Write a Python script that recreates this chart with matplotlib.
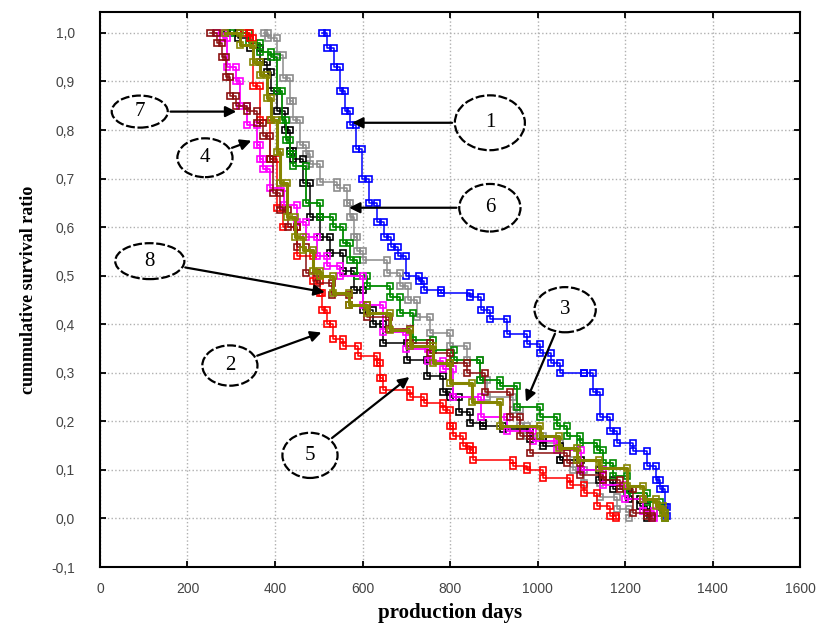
import numpy as np
import matplotlib.pyplot as plt
from matplotlib.patches import Ellipse

# survival curves: (production day, survival ratio)
days_1 = [507, 520, 535, 549, 560, 571, 585, 598, 615, 632, 650, 665, 680, 700, 730, 740, 780, 846, 870, 891,
          930, 975, 1006, 1030, 1051, 1105, 1127, 1143, 1165, 1181, 1219, 1250, 1270, 1280, 1291, 1296]
surv_1 = [1.0, 0.97, 0.93, 0.88, 0.84, 0.81, 0.76, 0.70, 0.65, 0.61, 0.58, 0.56, 0.54, 0.50, 0.49, 0.47, 0.465, 0.457, 0.43, 0.41,
          0.38, 0.36, 0.34, 0.32, 0.30, 0.30, 0.26, 0.21, 0.18, 0.156, 0.14, 0.108, 0.08, 0.06, 0.023, 0.005]

days_2 = [330, 343, 350, 365, 389, 404, 418, 450, 487, 503, 508, 518, 533, 556, 590, 632, 640, 647, 709, 740,
          785, 800, 807, 830, 846, 853, 944, 975, 1013, 1074, 1105, 1135, 1166, 1180]
surv_2 = [1.0, 0.99, 0.89, 0.82, 0.74, 0.64, 0.60, 0.54, 0.49, 0.465, 0.43, 0.40, 0.37, 0.355, 0.334, 0.32, 0.29, 0.265, 0.25, 0.238,
          0.224, 0.19, 0.17, 0.149, 0.142, 0.121, 0.108, 0.10, 0.084, 0.07, 0.053, 0.025, 0.005, 0.0]

days_3 = [300, 340, 366, 392, 404, 415, 425, 435, 442, 472, 503, 533, 556, 571, 587, 610, 663, 686, 716, 762,
          808, 869, 914, 952, 1006, 1044, 1067, 1097, 1135, 1150, 1173, 1204, 1250, 1280, 1292]
surv_3 = [1.0, 0.98, 0.96, 0.95, 0.88, 0.82, 0.78, 0.75, 0.725, 0.65, 0.62, 0.60, 0.567, 0.533, 0.50, 0.478, 0.457, 0.423, 0.368, 0.348,
          0.327, 0.286, 0.272, 0.23, 0.21, 0.19, 0.17, 0.156, 0.142, 0.115, 0.087, 0.053, 0.033, 0.012, 0.0]

days_4 = [265, 282, 290, 312, 320, 335, 358, 366, 373, 389, 420, 450, 470, 495, 520, 549, 600, 647, 700, 750,
          784, 807, 870, 930, 990, 1044, 1100, 1150, 1200, 1240, 1265]
surv_4 = [1.0, 0.99, 0.93, 0.90, 0.85, 0.81, 0.77, 0.74, 0.72, 0.68, 0.645, 0.61, 0.58, 0.54, 0.52, 0.50, 0.44, 0.385, 0.35, 0.325,
          0.307, 0.25, 0.21, 0.18, 0.16, 0.142, 0.10, 0.07, 0.04, 0.015, 0.0]

days_5 = [290, 316, 343, 366, 381, 392, 404, 423, 434, 442, 465, 480, 503, 526, 556, 580, 602, 625, 647, 701,
          747, 784, 800, 820, 846, 876, 922, 983, 1013, 1051, 1100, 1140, 1173, 1210, 1234, 1250]
surv_5 = [1.0, 0.99, 0.97, 0.94, 0.92, 0.88, 0.84, 0.80, 0.756, 0.74, 0.69, 0.62, 0.58, 0.547, 0.51, 0.47, 0.43, 0.40, 0.362, 0.327,
          0.293, 0.26, 0.25, 0.22, 0.197, 0.19, 0.185, 0.163, 0.149, 0.121, 0.10, 0.08, 0.06, 0.04, 0.025, 0.0]

days_6 = [375, 385, 404, 419, 434, 442, 457, 470, 480, 503, 541, 564, 571, 580, 587, 602, 655, 686, 705, 724,
          754, 800, 838, 869, 884, 944, 960, 975, 1013, 1051, 1080, 1105, 1143, 1181, 1210]
surv_6 = [1.0, 0.99, 0.955, 0.907, 0.86, 0.82, 0.77, 0.75, 0.73, 0.694, 0.68, 0.65, 0.62, 0.58, 0.55, 0.533, 0.506, 0.478, 0.45, 0.416,
          0.382, 0.355, 0.327, 0.286, 0.25, 0.224, 0.19, 0.17, 0.156, 0.121, 0.10, 0.074, 0.045, 0.02, 0.0]

days_7 = [251, 267, 280, 289, 297, 312, 335, 358, 373, 389, 396, 411, 430, 450, 472, 495, 530, 570, 610, 660,
          709, 754, 800, 838, 880, 937, 960, 983, 1067, 1097, 1150, 1189, 1219, 1250, 1262]
surv_7 = [1.0, 0.98, 0.95, 0.91, 0.87, 0.85, 0.84, 0.815, 0.787, 0.74, 0.67, 0.636, 0.60, 0.56, 0.506, 0.485, 0.46, 0.44, 0.416, 0.39,
          0.362, 0.341, 0.32, 0.30, 0.26, 0.21, 0.17, 0.135, 0.115, 0.09, 0.08, 0.06, 0.012, 0.005, 0.0]

days_8 = [285, 320, 350, 366, 381, 392, 404, 411, 427, 445, 465, 487, 503, 533, 570, 610, 663, 709, 762, 800,
          850, 914, 1006, 1050, 1090, 1140, 1204, 1242, 1270, 1287, 1292]
surv_8 = [1.0, 0.975, 0.94, 0.914, 0.866, 0.82, 0.755, 0.69, 0.62, 0.58, 0.553, 0.51, 0.50, 0.465, 0.44, 0.423, 0.389, 0.355, 0.32, 0.28,
          0.24, 0.19, 0.17, 0.145, 0.12, 0.105, 0.066, 0.04, 0.025, 0.012, 0.0]

x_ticks = [0, 200, 400, 600, 800, 1000, 1200, 1400, 1600]
y_ticks = [-0.1, 0.0, 0.1, 0.2, 0.3, 0.4, 0.5, 0.6, 0.7, 0.8, 0.9, 1.0]
y_labels = ["-0,1", "0,0", "0,1", "0,2", "0,3", "0,4", "0,5", "0,6", "0,7", "0,8", "0,9", "1,0"]

# label, ellipse centre (day, ratio), arrow tip (day, ratio)
tags = ["1", "6", "7", "4", "8", "2", "5", "3"]
tag_pos = [(891, 0.815), (891, 0.64), (91, 0.838), (240, 0.743), (114, 0.53), (297, 0.315), (480, 0.13), (1063, 0.43)]
tag_tip = [(570, 0.815), (563, 0.64), (318, 0.838), (352, 0.78), (520, 0.465), (512, 0.385), (712, 0.295), (971, 0.235)]
tag_size = [(160, 0.113), (140, 0.098), (128, 0.066), (126, 0.08), (158, 0.074), (126, 0.083), (126, 0.093), (140, 0.093)]

series = [
    (days_1, surv_1, "#0000ff", 1.1),
    (days_6, surv_6, "#8c8c8c", 1.1),
    (days_5, surv_5, "#000000", 1.1),
    (days_3, surv_3, "#008a00", 1.3),
    (days_2, surv_2, "#ff0000", 1.1),
    (days_4, surv_4, "#ff00ff", 1.3),
    (days_7, surv_7, "#8b1010", 1.1),
    (days_8, surv_8, "#858500", 2.2),
]

plt.rcParams["font.family"] = ["Liberation Sans", "DejaVu Sans"]
fig = plt.figure(figsize=(8.19, 6.35), dpi=100)
ax = fig.add_axes([0.122, 0.107, 0.855, 0.874])

for d, s, c, lw in series:
    d = np.array(d, dtype=float)
    s = np.array(s, dtype=float)
    # step corners so markers sit on both ends of every step
    xs = np.repeat(d, 2)[1:]
    ys = np.repeat(s, 2)[:-1]
    ax.plot(xs, ys, color=c, lw=lw, marker="s", ms=4.5, mfc="none", mew=1.2, zorder=3)

for t, p, tip, sz in zip(tags, tag_pos, tag_tip, tag_size):
    ax.add_patch(Ellipse(p, sz[0], sz[1], fill=False, ec="black", lw=1.6, ls=(0, (4, 1.2)), zorder=5))
    ax.text(p[0], p[1], t, ha="center", va="center", fontsize=15, family="Liberation Serif", zorder=6)
    # start the arrow on the ellipse edge
    dx = tip[0] - p[0]
    dy = (tip[1] - p[1]) * 1110
    ang = np.arctan2(dy, dx)
    a = sz[0] / 2
    b = sz[1] / 2 * 1110
    r = a * b / np.sqrt((b * np.cos(ang)) ** 2 + (a * np.sin(ang)) ** 2)
    start = (p[0] + r * np.cos(ang), p[1] + r * np.sin(ang) / 1110)
    ax.annotate("", xy=tip, xytext=start,
                arrowprops=dict(arrowstyle="-|>", color="black", lw=1.6, mutation_scale=16), zorder=6)

ax.set_xlim(0, 1600)
ax.set_ylim(-0.1, 1.043)
ax.set_xticks(x_ticks)
ax.set_xticklabels([str(v) for v in x_ticks])
ax.set_yticks(y_ticks)
ax.set_yticklabels(y_labels)
ax.tick_params(direction="in", top=True, right=True, length=4, width=1.3, labelsize=10, labelcolor="#444444")
ax.tick_params(axis="y", pad=18)
ax.tick_params(axis="x", pad=11)
ax.grid(True, ls=":", color="#b0b0b0", lw=1)
for sp in ax.spines.values():
    sp.set_linewidth(1.5)

ax.set_xlabel("production days", family="Liberation Serif", fontweight="bold", fontsize=15, labelpad=5)
ax.set_ylabel("cummulative survival ratio", family="Liberation Serif", fontweight="bold", fontsize=13, labelpad=10)

fig.savefig("out.png", dpi=100)
